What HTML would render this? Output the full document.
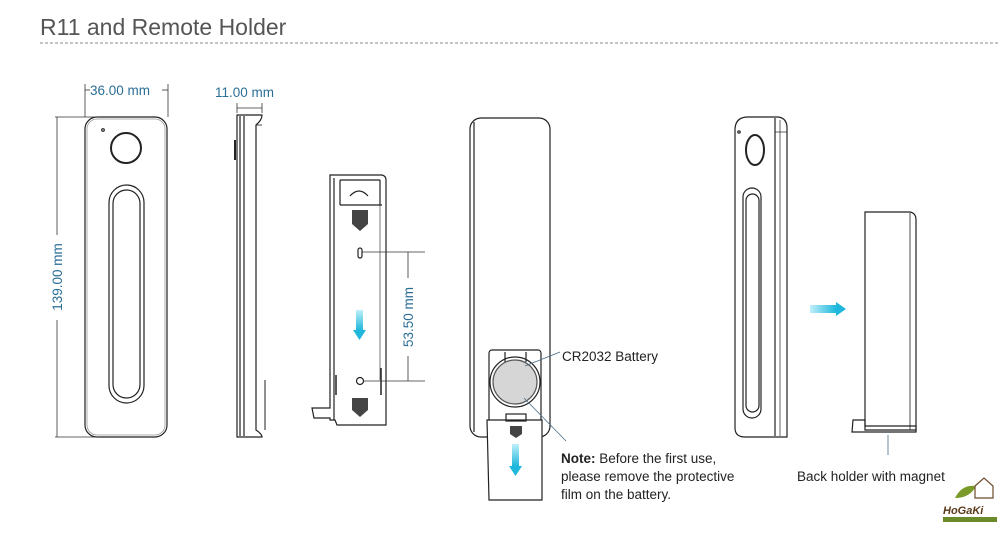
<!DOCTYPE html>
<html><head><meta charset="utf-8"><style>
html,body{margin:0;padding:0;background:#fff;}
svg{display:block;}
text{font-family:"Liberation Sans",sans-serif;}
</style></head><body>
<svg width="1000" height="536" viewBox="0 0 1000 536" xmlns="http://www.w3.org/2000/svg">
<defs>
<linearGradient id="ad" x1="0" y1="0" x2="0" y2="1"><stop offset="0" stop-color="#bfeffa"/><stop offset="1" stop-color="#1fb8dc"/></linearGradient>
<linearGradient id="ar" x1="0" y1="0" x2="1" y2="0"><stop offset="0" stop-color="#bfeffa"/><stop offset="1" stop-color="#1fb8dc"/></linearGradient>
</defs>
<text x="40" y="35" font-size="23" fill="#555" font-family="Liberation Sans">R11 and Remote Holder</text>
<line x1="40" y1="43" x2="1000" y2="43" stroke="#888" stroke-dasharray="3,2" stroke-width="1"/>

<g fill="none" stroke="#222" stroke-width="1.2">
<rect x="85" y="117" width="82" height="320" rx="12"/>
<rect x="87" y="119" width="78" height="316" rx="10" stroke="#999" stroke-width="0.8"/>
<circle cx="126" cy="148" r="15" stroke-width="2"/>
<circle cx="103" cy="130" r="1.3"/>
<rect x="109" y="185" width="35" height="218" rx="17.5"/>
<rect x="113" y="190" width="27" height="208" rx="13.5"/>
<g stroke="#333" stroke-width="0.8">
<line x1="85" y1="84" x2="85" y2="117"/><line x1="168" y1="84" x2="168" y2="117"/>
<line x1="85" y1="90" x2="90" y2="90"/><line x1="162" y1="90" x2="168" y2="90"/>
<line x1="55" y1="117" x2="100" y2="117"/><line x1="55" y1="437" x2="100" y2="437"/>
<line x1="57" y1="117" x2="57" y2="235"/><line x1="57" y1="320" x2="57" y2="437"/>
<line x1="237" y1="103" x2="237" y2="113"/><line x1="262" y1="103" x2="262" y2="113"/>
<line x1="237" y1="108" x2="262" y2="108"/>
</g>
<path d="M237 115 L262 115 Q262 120 256 125 L256 430 Q262 434 262 437 L237 437 Z"/>
<line x1="240" y1="116" x2="240" y2="436"/>
<line x1="244" y1="116" x2="244" y2="436"/>
<line x1="256" y1="125" x2="262" y2="125" stroke-width="0.8"/>
<line x1="235" y1="140" x2="235" y2="160" stroke-width="2"/>
<line x1="265" y1="380" x2="265" y2="430" stroke-width="1"/>
<path d="M330 175 L382 175 Q386 176 386 180 L386 425 L337 425 L335 420 L330 420 L330 418 L314 418 L312 408 L330 408 Z"/>
<line x1="334" y1="178" x2="334" y2="420"/>
<line x1="340" y1="180" x2="380" y2="180"/>
<line x1="340" y1="180" x2="340" y2="205"/><line x1="380" y1="180" x2="380" y2="205"/>
<path d="M350 196 Q359 186 368 196" />
<line x1="340" y1="205" x2="382" y2="205"/>
<rect x="358" y="248" width="4" height="10" rx="2"/>
<circle cx="360" cy="381" r="3.5"/>
<line x1="380" y1="205" x2="380" y2="380" stroke-width="0.6"/>
<line x1="381" y1="368" x2="381" y2="395" stroke-width="1.5"/>
<line x1="336" y1="375" x2="336" y2="395" stroke-width="1.5"/>
<g fill="#444" stroke="none">
<rect x="352" y="210" width="16" height="14"/><path d="M352 224 L368 224 L360 231 Z"/>
<rect x="352" y="398" width="16" height="12"/><path d="M352 410 L368 410 L360 417 Z"/>
</g>
<g stroke="#333" stroke-width="0.8">
<line x1="362" y1="252" x2="425" y2="252"/><line x1="364" y1="381" x2="425" y2="381"/>
<line x1="408" y1="252" x2="408" y2="278"/><line x1="408" y1="356" x2="408" y2="381"/>
</g>
<rect x="470" y="118" width="80" height="319" rx="11"/>
<line x1="474" y1="122" x2="474" y2="432"/>
<rect x="489" y="350" width="52" height="85" rx="3" fill="#fff"/>
<line x1="505" y1="352" x2="505" y2="362"/><line x1="526" y1="352" x2="526" y2="362"/>
<circle cx="515" cy="382" r="22" fill="#d6d6d6" stroke="#555"/>
<circle cx="515" cy="382" r="25"/>
<path d="M487 420 L542 420 L542 500 L489 500 Z" fill="#fff"/>
<rect x="506" y="414" width="20" height="7"/>
<g fill="#444" stroke="none"><rect x="510" y="426" width="12" height="8"/><path d="M510 434 L522 434 L516 438 Z"/></g>
</g>
<g stroke="#4a6a80" stroke-width="0.8" fill="none">
<line x1="525" y1="366" x2="560" y2="352"/>
<line x1="524" y1="398" x2="566" y2="441"/>
<line x1="888" y1="435" x2="888" y2="455"/>
</g>
<g>
<rect x="356" y="310" width="7" height="20" fill="url(#ad)"/><path d="M353 330 L366 330 L359.5 340 Z" fill="#1fb8dc"/>
<rect x="512" y="444" width="7" height="22" fill="url(#ad)"/><path d="M509 466 L522 466 L515.5 476 Z" fill="#1fb8dc"/>
<rect x="810" y="305" width="26" height="8" fill="url(#ar)"/><path d="M836 302 L846 309 L836 316 Z" fill="#1fb8dc"/>
</g>
<g fill="none" stroke="#222" stroke-width="1.2">
<path d="M748 117 L778 117 Q787 118 787 128 L787 437 L745 437 Q735 437 735 428 L735 130 Q735 117 748 117 Z"/>
<line x1="775" y1="118" x2="775" y2="436"/>
<line x1="780" y1="120" x2="780" y2="436" stroke-width="0.7"/>
<line x1="775" y1="132" x2="787" y2="132" stroke-width="0.7"/>
<circle cx="739" cy="132" r="1.2"/>
<ellipse cx="755" cy="150" rx="9" ry="15" stroke-width="2"/>
<rect x="743" y="188" width="18" height="230" rx="9"/>
<rect x="746" y="194" width="13" height="218" rx="6.5"/>
<path d="M865 212 L910 212 Q916 213 916 220 L916 430 L865 430 Z"/>
<line x1="910" y1="213" x2="910" y2="430" stroke-width="0.8"/>
<path d="M853 420 L865 420 L865 426 L916 426 L916 432 L852 432 Z"/>
</g>
<g fill="#2b6e96" font-size="13.5">
<text x="90" y="95">36.00 mm</text>
<text x="215" y="97">11.00 mm</text>
<text transform="translate(62,277) rotate(-90)" text-anchor="middle">139.00 mm</text>
<text transform="translate(413,317) rotate(-90)" text-anchor="middle">53.50 mm</text>
</g>
<g fill="#222" font-size="13.5">
<text x="562" y="361">CR2032 Battery</text>
<text x="561" y="463"><tspan font-weight="bold">Note:</tspan> Before the first use,</text>
<text x="561" y="481">please remove the protective</text>
<text x="561" y="499">film on the battery.</text>
<text x="797" y="481">Back holder with magnet</text>
</g>
<path d="M955 498 Q962 484 976 486 Q970 498 955 498 Z" fill="#7a9a2a"/>
<path d="M975 486 L984 478 L993 486 L993 498 L975 498 Z" fill="#fff" stroke="#6b4a2a" stroke-width="1.2"/>
<text x="943" y="514" font-size="11" font-weight="bold" font-style="italic" fill="#5a3a1a" font-family="Liberation Serif">HoGaKi</text>
<rect x="943" y="517" width="54" height="5" fill="#6b8a2a"/>
</svg>
</body></html>
